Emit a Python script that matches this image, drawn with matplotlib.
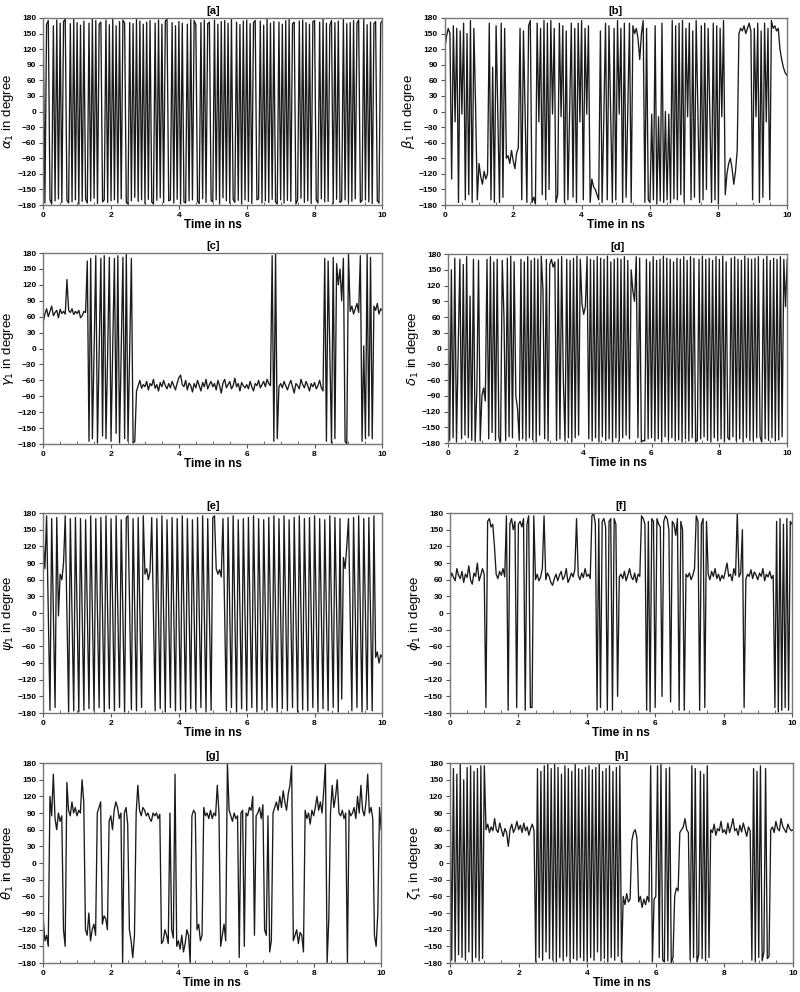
"""
Dihedral angle time series (8 panels), 0-10 ns.
"""

import numpy as np
import matplotlib
matplotlib.use("Agg")
import matplotlib.pyplot as plt
from matplotlib.ticker import MultipleLocator

plt.rcParams["font.family"] = ["Liberation Sans", "DejaVu Sans"]

# time grid: 0 .. 10 ns, one sample every 0.05 ns
time_ns = np.linspace(0, 10, 201)

alpha_1 = [
    172, -176, 168, 175, -170, -178, 165, -172, 176, -168, 170, -175, 173, 178, -171, -176, 169, -174, 177, -170,
    171, -178, 166, -173, 174, -169, -176, 170, -172, 178, -167, 175, -177, 168, 172, -174, -170, 176, -175, 167,
    -172, 178, -170, 165, -176, 173, -168, 176, 170, -175, -178, 171, -172, 169, -165, 177, -173, 174, -170, 168,
    -177, 172, -169, 175, -174, -178, 170, -171, 176, -166, 168, -175, 174, 178, -172, -170, 171, -176, 165, -169,
    173, -178, 170, -174, -176, 168, -172, 177, -170, 175, 167, -173, -177, 171, -168, 176, -175, 169, 172, -171,
    -174, 176, -170, 168, -178, 173, -166, 175, -172, 170, -176, 177, -169, -175, 172, -171, 167, -178, 174, -170,
    176, -173, 169, -177, 171, 175, -170, -168, 174, -176, 166, -172, 178, -175, 170, -169, 173, -174, -178, 172,
    -170, 168, -176, 175, -171, 177, -173, 169, 172, -178, -170, 174, -167, 176, -175, 171, -172, 168, -177, 173,
    175, -170, -176, 172, -168, 178, -174, 170, -173, 166, 175, -177, 171, -169, 174, -175, -172, 177, -170, 169,
    -176, 171, -173, 175, -168, 170, 176, -175, -171, 178, -170, 167, -174, 172, -177, 169, 173, -172, -176, 170,
    175,
]

beta_1 = [
    120, 145, 160, 150, -130, 165, -20, 160, -175, 155, -5, 170, -170, 150, -160, 175, -175, 160, 10, -170,
    -100, -125, -140, -115, -130, -120, 170, -170, 85, -175, 165, -10, -175, 170, -165, 160, -90, -85, -100, -75,
    -95, -110, -80, -70, 160, -170, 155, -10, -175, 165, 175, -175, -165, -178, 170, -20, 160, -160, 175, -170,
    170, -150, 175, -5, 160, -175, -160, 170, -10, 165, -175, 155, -170, 5, 170, -165, 160, -175, 170, -20,
    175, -170, 160, -5, 165, -175, -130, -145, -150, -160, -170, 155, -175, -10, 170, -170, 165, 0, -175, 160,
    -170, 175, -5, 160, -175, 170, -165, 5, 170, -175, 165, 150, 160, 140, 100, 150, 175, -175, 160, -170,
    -175, -5, -170, 165, -178, -10, -172, 170, -175, 0, -170, -5, -176, 175, -168, 165, -170, 170, -160, 175,
    -175, 160, -10, 170, -170, 155, -165, 175, 0, -175, 165, -170, 170, -150, 160, -5, -175, 170, -170, 165,
    -178, 160, -10, 175, -160, -120, -100, -90, -110, -140, -115, -75, 150, 160, 155, 165, 150, 160, 170, 155,
    -170, 160, -10, 170, -175, 155, -165, 170, -20, 160, -170, 175, 160, 165, 155, 160, 120, 100, 85, 75,
    70,
]

gamma_1 = [
    50, 65, 75, 60, 70, 80, 62, 68, 72, 58, 74, 66, 70, 65, 130, 72, 68, 75, 64, 70,
    66, 72, 58, 62, 70, 68, 165, -175, 170, -170, -5, 175, -178, 0, 170, -165, 175, -170, -10, 172,
    -175, 5, 170, -160, 175, -178, -5, 172, -170, 178, -175, 0, 170, -178, -175, -80, -70, -60, -75, -68,
    -72, -62, -78, -66, -70, -58, -75, -68, -80, -64, -72, -60, -70, -76, -66, -74, -62, -70, -78, -65,
    -55, -50, -68, -72, -60, -78, -65, -70, -82, -66, -74, -60, -70, -80, -64, -72, -58, -76, -68, -62,
    -72, -66, -78, -60, -70, -84, -65, -58, -74, -68, -62, -76, -70, -56, -72, -66, -80, -64, -70, -74,
    -68, -76, -62, -72, -80, -66, -70, -60, -74, -68, -62, -72, -58, -66, -70, 175, -175, 178, -170, -72,
    -66, -74, -62, -70, -78, -68, -60, -72, -84, -66, -70, -76, -58, -68, -74, -62, -70, -80, -66, -72,
    -64, -76, -70, -60, -74, -80, 170, -175, 165, -5, -178, 172, -170, 160, 120, 150, 90, 170, -175, -180,
    178, 70, 80, 65, 75, 85, 68, 175, -175, 5, -170, 178, -165, 172, -170, 80, 72, 85, 65, 75,
    72,
]

delta_1 = [
    165, -175, 150, -170, 172, -178, -5, 170, -172, 160, -165, 175, -170, 100, -175, 170, -178, -80, 168, -176,
    -90, -75, -100, 170, -172, 175, -160, 165, -175, 170, -170, -178, 168, 60, -175, 172, -168, 176, -170, 165,
    -90, -115, -175, 170, -172, 165, -176, 175, -170, 168, -174, 172, -178, 170, -165, 176, 110, -172, 170, -176,
    160, 170, 155, 165, -175, 170, -172, 175, -60, -176, 170, -170, 168, -178, 172, -170, 176, -165, 170, 85,
    65, 80, 175, -172, 170, -176, 168, -170, 175, -178, 172, -168, 170, -175, 176, -172, 165, -178, 170, -170,
    172, -176, 170, -170, 175, -165, 168, -172, 150, 110, 90, 175, -170, 172, -178, -175, -176, 170, -172, 165,
    -170, 175, -176, 168, -172, 170, -178, 176, -168, 172, -175, 170, -170, 165, -176, 172, -174, 170, -178, 175,
    -172, 168, -176, 175, -170, 172, -178, -175, 170, -172, 176, -168, 170, -175, 172, -178, 168, -170, 175, -176,
    170, -172, 176, -178, 165, -170, -174, 172, -168, 175, -176, 170, -172, 168, -178, 176, -170, 172, -175, 170,
    -176, 172, -170, 175, -168, -178, 170, -172, 176, -175, 168, -170, 172, -176, 170, -174, 175, -168, 170, 80,
    170,
]

psi_1 = [
    130, 80, 175, 0, -175, 170, 5, -170, 172, -5, 70, 60, 90, 175, -5, -178, 170, 0, -176, 172,
    -5, -178, 170, 0, -175, 168, 5, -172, 175, -2, -176, 170, 0, -170, 172, -5, -178, 175, 0, -172,
    170, 5, -176, 175, 0, -170, 168, -5, -178, 172, 175, 0, -174, 170, -5, -176, 172, 0, -170, 175,
    70, 80, 60, 75, 172, -5, -176, 170, 0, -172, 175, -2, -178, 168, 5, -170, 172, 0, -176, 170,
    -5, -174, 175, 0, -178, 170, 5, -172, 168, -2, -176, 172, 0, -170, 175, -5, -178, 170, 0, -175,
    172, 175, 80, 70, 78, 65, 170, -5, -176, 172, 0, -170, 175, -2, -178, 168, 5, -172, 170, 0,
    -176, 172, -5, -170, 175, 0, -178, 170, 5, -174, 168, -2, -176, 172, 0, -170, 175, -5, -178, 170,
    0, -172, 175, 5, -176, 168, -2, -170, 172, 0, -178, 175, -5, -174, 170, 0, -176, 172, 5, -170,
    175, -2, -178, 170, 0, -172, 168, -5, -176, 175, 0, -170, 172, 5, -178, 170, -155, 100, 80, 120,
    170, -5, -176, 172, 0, -170, 175, -2, -178, 170, 0, -174, 172, -5, -176, 175, -80, -70, -90, -75,
    -80,
]

phi_1 = [
    60, 72, 65, 58, 80, 68, 62, 75, 55, 70, 64, 85, 60, 52, 72, 66, 90, 58, 68, 80,
    70, -170, 165, 170, 155, 160, 120, 70, 62, 75, 68, 80, 65, 175, -175, 160, 170, 150, 165, -170,
    160, 165, 155, 170, -175, 160, 175, -170, -170, 175, 60, 70, 58, 65, 80, 175, 60, 72, 66, 55,
    50, 62, 70, 58, 68, 75, 60, 66, 80, 55, 62, 72, 65, 78, 170, 68, 60, 72, 64, 80,
    66, 70, 62, 175, 180, 160, -175, 170, -170, 165, 170, 155, -175, 165, 170, -175, 170, 160, -150, 65,
    70, 62, 75, 58, 68, 80, 65, 60, 72, 55, 70, 66, 175, 170, 160, -175, 165, -178, 170, 165,
    -170, 170, 160, 155, -150, 165, 175, 170, 150, -160, 165, 160, 140, 170, -175, 165, 150, -175, 70, 65,
    72, 60, 68, 80, 175, 165, -175, 160, 170, -170, 165, 70, 60, 75, 66, 80, 62, 70, 58, 68,
    62, 75, 90, 66, 70, 58, 80, 68, 180, 65, 72, 150, -170, 60, 70, 66, 78, 62, 74, 68,
    60, 72, 66, 80, 58, 70, 65, 75, 62, 68, -170, 165, -178, 170, -175, 160, -170, 170, -175, 165,
    160,
]

theta_1 = [
    -100, -140, -130, -150, 120, 85, 160, 80, 60, 90, 75, 85, -120, -150, 145, 95, 85, 110, 90, 100,
    85, 95, 90, 150, 110, -120, -130, -90, -140, -120, -110, -130, 90, 100, 110, -110, -95, -100, -120, 75,
    85, 60, 95, 110, 100, 80, 90, -180, 90, 100, 70, -120, -140, -170, -130, 90, 140, 95, 85, 100,
    95, 85, 90, 80, 75, 90, 85, 90, 80, 88, -145, -140, -120, -130, -145, 90, -120, -135, 160, -150,
    -140, -155, -130, -160, -145, -120, -130, -180, 85, 95, 90, -120, -110, -140, -130, 100, 85, 90, 80, 95,
    80, 90, 85, 140, 90, -150, -130, -110, -140, 180, 95, 85, 75, 90, 80, 85, -170, 90, 95, -150,
    90, 85, 100, 95, 120, -130, 85, 90, 100, 80, 105, -120, -130, 85, -160, -140, 90, 100, 110, 95,
    120, 100, 130, 110, 95, 125, 140, 175, -140, -130, -120, -145, -125, -130, -160, 95, 80, 90, 70, 95,
    85, 100, 120, 95, 110, 90, 130, 180, -180, -100, 90, 140, 100, 120, 150, 90, 85, 95, 80, 90,
    -180, 95, 85, 90, 100, 80, 120, 90, 140, 95, 85, 110, 160, 90, 100, 80, -130, -150, -90, 100,
    60,
]

zeta_1 = [
    175, -175, 170, -178, 160, -165, 178, -170, 150, -175, 172, -160, 175, -178, 165, -170, 170, -176, 175, -172,
    175, 60, 70, 55, 65, 58, 80, 60, 55, 72, 60, 48, 62, 55, 30, 60, 70, 55, 62, 75,
    60, 68, 55, 72, 58, 65, 50, 62, 70, 58, -178, 170, -170, 165, -175, 175, -160, 178, -172, 170,
    -175, 180, -178, 172, -170, 160, -176, 175, -168, 170, -178, 165, -172, 178, -175, 170, -170, 168, -176, 172,
    -178, 175, -170, 168, -175, 172, -160, 178, -176, 165, -172, 170, -178, 175, -170, 165, -175, 172, -168, 175,
    -178, -60, -75, -55, -70, -65, 40, 55, 60, 45, -70, -60, -80, -65, -75, -60, -70, 175, -178, -65,
    -60, 175, -170, 178, -175, -178, 170, -176, 172, -180, -170, -60, -45, -50, 55, 60, 65, 80, 60, 55,
    -175, 175, -170, 170, -178, -165, 165, -172, 160, -176, 175, -170, 60, 55, 70, 50, 62, 58, 75, 55,
    60, 52, 72, 55, 66, 80, 58, 62, 50, 68, 56, 72, 60, 48, 65, 58, -175, 170, -178, 165,
    -170, 175, -176, -160, 170, -172, -168, 60, 65, 55, 75, 62, 58, 80, 66, 60, 55, 70, 62, 58,
    60,
]

panels = [
    ("[a]", r"$\alpha_1$ in degree", alpha_1, [0.054, 0.7933, 0.424, 0.1886]),
    ("[b]", r"$\beta_1$ in degree", beta_1, [0.556, 0.7933, 0.4275, 0.1886]),
    ("[c]", r"$\gamma_1$ in degree", gamma_1, [0.054, 0.5524, 0.424, 0.1925]),
    ("[d]", r"$\delta_1$ in degree", delta_1, [0.560, 0.5534, 0.424, 0.1905]),
    ("[e]", r"$\psi_1$ in degree", psi_1, [0.054, 0.2812, 0.424, 0.2016]),
    ("[f]", r"$\phi_1$ in degree", phi_1, [0.5625, 0.2812, 0.4275, 0.2016]),
    ("[g]", r"$\theta_1$ in degree", theta_1, [0.054, 0.0292, 0.4225, 0.2016]),
    ("[h]", r"$\zeta_1$ in degree", zeta_1, [0.5625, 0.0292, 0.4288, 0.2016]),
]


def draw_panel(fig, title, ylabel, values, rect):
    ax = fig.add_axes(rect)
    ax.plot(time_ns, values, color="#1a1a1a", lw=0.95)

    ax.set_xlim(0, 10)
    ax.set_ylim(-180, 180)
    ax.set_yticks(np.arange(-180, 181, 30))
    ax.xaxis.set_major_locator(MultipleLocator(2))
    ax.xaxis.set_minor_locator(MultipleLocator(0.5))

    ax.tick_params(axis="both", which="major", labelsize=6, length=3,
                   width=0.8, color="#555555", pad=2)
    ax.tick_params(axis="x", which="minor", direction="in", length=2,
                   width=0.6, color="#555555")
    for lab in ax.get_xticklabels() + ax.get_yticklabels():
        lab.set_fontweight("bold")

    for sp in ax.spines.values():
        sp.set_color("#777777")
        sp.set_linewidth(1.0)

    ax.set_title(title, fontsize=8, fontweight="bold", pad=3)
    ax.set_xlabel("Time in ns", fontsize=8.5, fontweight="bold", labelpad=0)
    ax.set_ylabel(ylabel, fontsize=9.5, labelpad=1)
    return ax


fig = plt.figure(figsize=(8, 9.92), dpi=100)

for title, ylabel, values, rect in panels:
    draw_panel(fig, title, ylabel, values, rect)

fig.savefig("out.png", dpi=100)
